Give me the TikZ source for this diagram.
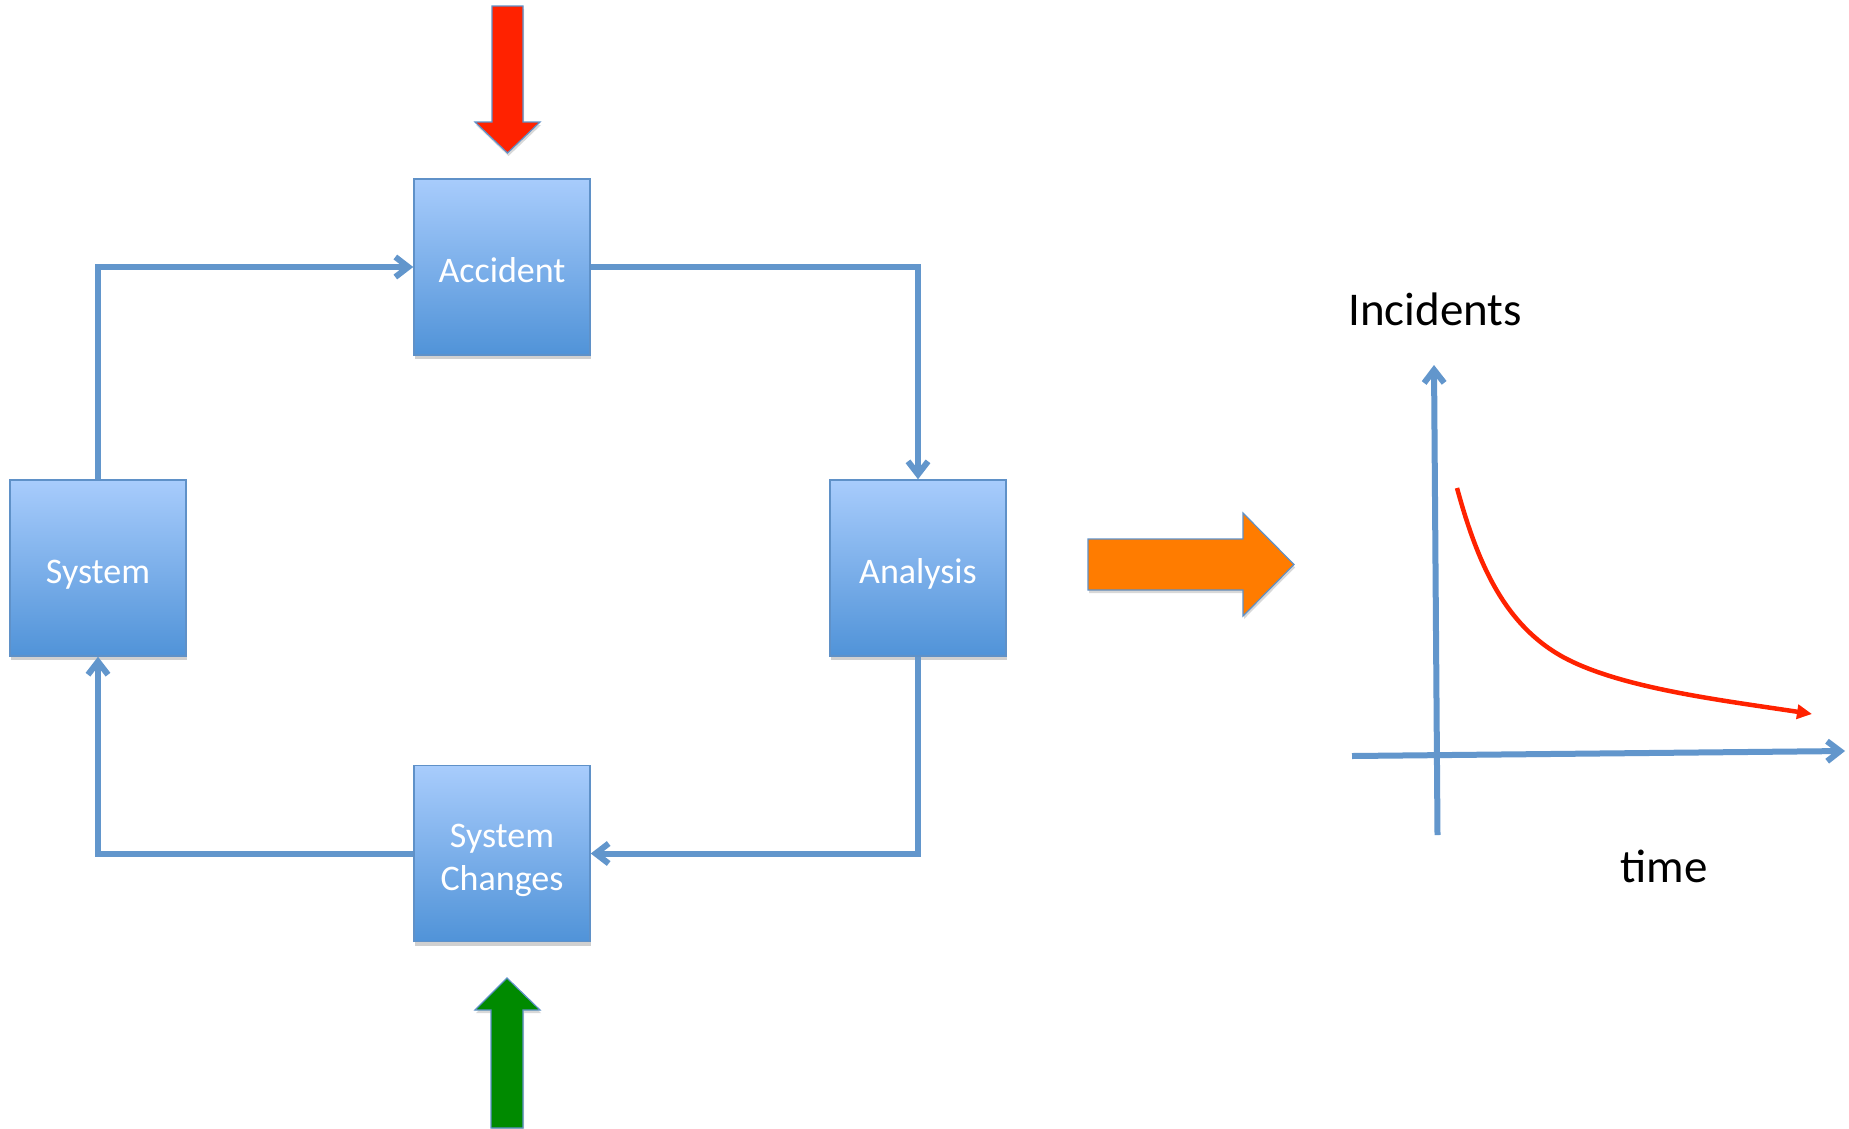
\documentclass[tikz,border=0pt]{standalone}
\usepackage{fontspec}
\setmainfont{Carlito}
\usetikzlibrary{arrows.meta,shadows,calc}
\definecolor{conn}{RGB}{98,150,204}
\definecolor{boxtop}{RGB}{168,204,252}
\definecolor{boxbot}{RGB}{80,147,216}
\definecolor{boxborder}{RGB}{95,145,200}
\definecolor{redarrow}{RGB}{255,34,0}
\definecolor{greenarrow}{RGB}{0,138,0}
\definecolor{orangearrow}{RGB}{255,124,0}
\begin{document}
\begin{tikzpicture}[x=1pt,y=-1pt,
  box/.style={draw=boxborder, line width=1.5pt, top color=boxtop, bottom color=boxbot,
    minimum width=176pt, minimum height=176pt, inner sep=0pt, text=white,
    font=\fontsize{36}{43}\selectfont, align=center, text height=30pt, text depth=0pt,
    drop shadow={shadow xshift=1pt, shadow yshift=-4pt, opacity=0.3, fill=black!60}},
  connline/.style={draw=conn, line width=6pt,
    -{Straight Barb[length=13pt,width=20pt,line width=6pt]}},
  blockarrow/.style={draw=boxborder, line width=1.2pt,
    drop shadow={shadow xshift=1pt, shadow yshift=-3pt, opacity=0.25, fill=black!60}},
  axis/.style={draw=conn, line width=6pt,
    -{Straight Barb[length=13pt,width=20pt,line width=6pt]}},
  lbl/.style={font=\fontsize{47}{56}\selectfont, text=black, inner sep=0pt}
]
\fill[white] (0,0) rectangle (1849,1128);
\useasboundingbox (0,0) rectangle (1849,1128);

% boxes
\node[box] (acc) at (502,267) {Accident};
\node[box] (sys) at (98,568) {System};
\node[box] (ana) at (918,568) {Analysis};
\node[box, text height=73pt] (chg) at (502,853.5) {System\\Changes};

% connectors
\draw[connline] (sys.north) |- (acc.west);
\draw[connline] (acc.east) -| (ana.north);
\draw[connline] (ana.south) |- (chg.east);
\draw[connline] (chg.west) -| (sys.south);

% block arrows
\filldraw[blockarrow, fill=redarrow] (492,6) -- (523,6) -- (523,122) -- (540,122) -- (507.5,153)
  -- (475,122) -- (492,122) -- cycle;
\filldraw[blockarrow, fill=greenarrow] (491,1128) -- (523,1128) -- (523,1010) -- (540,1010)
  -- (507,978) -- (475,1010) -- (491,1010) -- cycle;
\filldraw[blockarrow, fill=orangearrow] (1088,539) -- (1243,539) -- (1243,513) -- (1294,564.5)
  -- (1243,616) -- (1243,590) -- (1088,590) -- cycle;

% graph
\coordinate (yb) at (1437.5,835);
\coordinate (yt) at (1434,365);
\coordinate (xl) at (1352,756);
\coordinate (xr) at (1845,751);
\draw[axis] (yb) -- (yt);
\draw[axis] (xl) -- (xr);
\coordinate (cs) at (1457,488);
\coordinate (ce) at (1812,714);
\draw[draw=redarrow, line width=4.5pt, -{Triangle[length=15pt,width=14pt]}]
  (cs) .. controls (1478,565) and (1505,625) .. (1563,657)
  .. controls (1620,688) and (1720,700) .. (ce);

\node[lbl, anchor=base] (inc) at (1435,325) {Incidents};
\node[lbl, anchor=base] (tim) at (1664,882) {time};
\end{tikzpicture}
\end{document}
